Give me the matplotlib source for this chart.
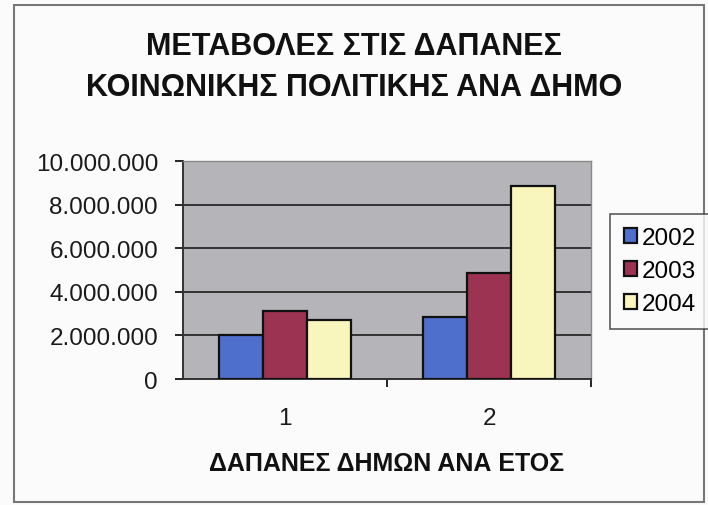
import matplotlib.pyplot as plt
import numpy as np
from matplotlib.patches import Rectangle

# Datos
categorias = ['1', '2']
anios = ['2002', '2003', '2004']
v2002 = [2000000, 2850000]
v2003 = [3120000, 4850000]
v2004 = [2720000, 8870000]
yticks = [0, 2000000, 4000000, 6000000, 8000000, 10000000]
ytick_labels = ['0', '2.000.000', '4.000.000', '6.000.000', '8.000.000', '10.000.000']

colores = ['#4f6fcd', '#9c3352', '#f9f6bd']

plt.rcParams['font.family'] = ['Liberation Sans', 'DejaVu Sans']

fig = plt.figure(figsize=(7.08, 5.06), dpi=100)
fig.patch.set_facecolor('#fbfbfb')
ax = fig.add_axes([0.2585, 0.249, 0.5763, 0.4308])
ax.set_facecolor('#b5b5b9')

x = np.arange(len(categorias))
w = 0.216
for i, (serie, c) in enumerate(zip([v2002, v2003, v2004], colores)):
    ax.bar(x + (i - 1) * w, serie, w, color=c, edgecolor='#111111',
           linewidth=1.6, label=anios[i], zorder=3)

ax.set_xlim(-0.5, 1.5)
ax.set_ylim(0, 10000000)
ax.set_yticks(yticks)
ax.set_yticklabels(ytick_labels, fontsize=17.5, color='#1a1a1a')
ax.set_xticks(x)
ax.set_xticklabels(categorias, fontsize=17.5, color='#1a1a1a')
ax.tick_params(axis='x', length=0, pad=20)
ax.tick_params(axis='y', length=6, width=1.2, pad=12)
ax.set_xticks([0.5, 1.5], minor=True)
ax.tick_params(axis='x', which='minor', length=6, width=1.2)

ax.grid(axis='y', color='#333333', linewidth=1.4, zorder=1)
for s in ['top', 'right']:
    ax.spines[s].set_color('#888888')
    ax.spines[s].set_linewidth(1.0)
ax.spines['left'].set_color('#333333')
ax.spines['bottom'].set_color('#333333')
ax.spines['left'].set_linewidth(1.4)
ax.spines['bottom'].set_linewidth(1.4)

ax.set_xlabel('ΔΑΠΑΝΕΣ ΔΗΜΩΝ ΑΝΑ ΕΤΟΣ', fontsize=18, fontweight='bold',
              color='#111111', labelpad=16)

fig.text(0.5, 0.907, 'ΜΕΤΑΒΟΛΕΣ ΣΤΙΣ ΔΑΠΑΝΕΣ', ha='center', va='center',
         fontsize=22, fontweight='bold', color='#111111')
fig.text(0.5, 0.826, 'ΚΟΙΝΩΝΙΚΗΣ ΠΟΛΙΤΙΚΗΣ ΑΝΑ ΔΗΜΟ', ha='center', va='center',
         fontsize=22, fontweight='bold', color='#111111')

leg = fig.legend(loc='upper left', bbox_to_anchor=(0.862, 0.575),
                 fontsize=17.5, frameon=True, fancybox=False, handlelength=0.55,
                 handleheight=0.55, handletextpad=0.2, borderpad=0.55,
                 labelspacing=0.45, borderaxespad=0)
leg.get_frame().set_edgecolor('#333333')
leg.get_frame().set_linewidth(1.2)
leg.get_frame().set_facecolor('#fbfbfb')

# marco exterior
fig.patches.append(Rectangle((0.02, 0.006), 0.975, 0.982, transform=fig.transFigure,
                             fill=False, edgecolor='#777777', linewidth=1.5))

fig.savefig('out.png', dpi=100, facecolor=fig.get_facecolor())
